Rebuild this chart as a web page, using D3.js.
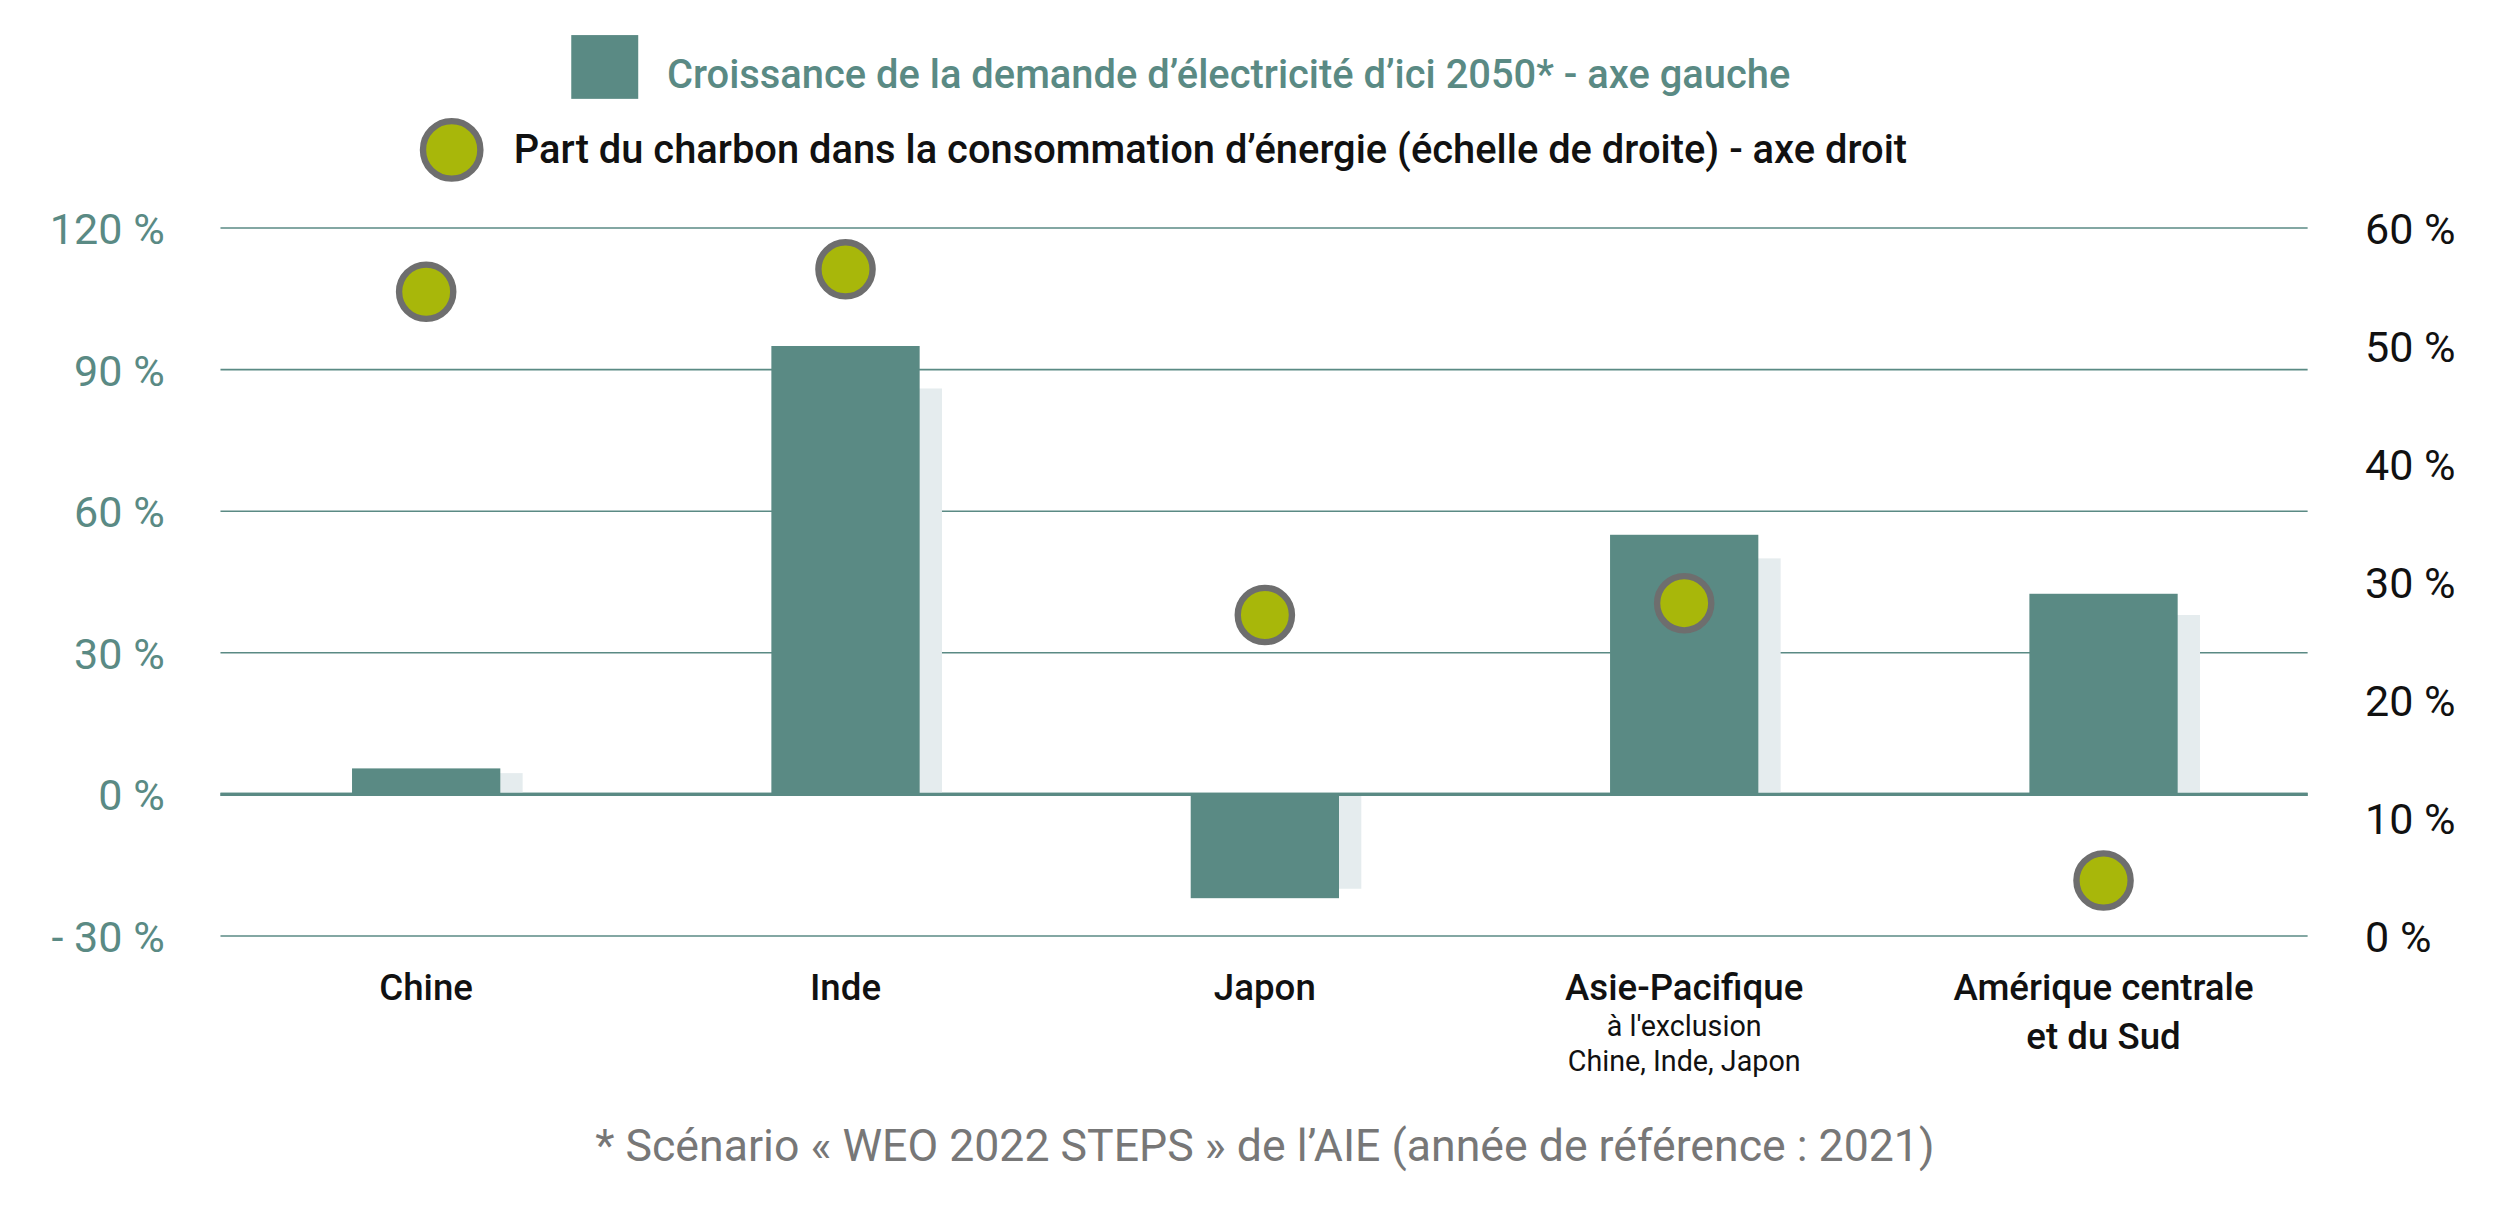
<!DOCTYPE html>
<html><head><meta charset="utf-8">
<script src="https://cdn.jsdelivr.net/npm/d3@7"></script>
<style>body{margin:0;background:#fff}svg{display:block}text{font-family:Roboto,sans-serif}</style>
</head><body>
<svg id="c" width="2501" height="1207" viewBox="0 0 1568 757"></svg>
<script>
const categories = ["Chine","Inde","Japon","Asie-Pacifique","Amérique centrale"];
const catLine2 = ["", "", "", "", "et du Sud"];
const catSub = ["", "", "", "à l'exclusion|Chine, Inde, Japon", ""];
const demandGrowth = [5.5, 95, -22, 55, 42.5];
const demandShadow = [4.5, 86, -20, 50, 38];
const coalShare = [54.6, 56.5, 27.2, 28.2, 4.7];
const leftTicks = [-30, 0, 30, 60, 90, 120];
const rightTicks = [0, 10, 20, 30, 40, 50, 60];

const svg = d3.select("#c");
const teal = "#5a8a84";
const x = d3.scalePoint().domain(categories).range([267, 1319]);
const yL = d3.scaleLinear().domain([-30, 120]).range([587, 143]);
const yR = d3.scaleLinear().domain([0, 60]).range([587, 143]);
const bw = 93;

// grid
svg.selectAll(".g").data(leftTicks).join("line")
  .attr("x1",138).attr("x2",1447).attr("y1",d=>yL(d)).attr("y2",d=>yL(d))
  .attr("stroke",teal).attr("stroke-width",d=>d===0?2:1);
// left labels
svg.selectAll(".lt").data(leftTicks).join("text")
  .attr("x",103).attr("y",d=>yL(d)+10).attr("text-anchor","end")
  .attr("font-size",27).attr("fill",teal)
  .text(d=>(d<0?"- "+(-d):d)+" %");
svg.selectAll(".rt").data(rightTicks).join("text")
  .attr("x",1483).attr("y",d=>yR(d)+10)
  .attr("font-size",27).attr("fill","#111").text(d=>d+" %");

// shadow bars
svg.selectAll(".sb").data(demandShadow).join("rect")
  .attr("x",(d,i)=>x(categories[i])-bw/2+14).attr("width",bw)
  .attr("y",d=>Math.min(yL(d),yL(0))).attr("height",d=>Math.abs(yL(d)-yL(0)))
  .attr("fill","#e5ecee");
svg.selectAll(".b").data(demandGrowth).join("rect")
  .attr("x",(d,i)=>x(categories[i])-bw/2).attr("width",bw)
  .attr("y",d=>Math.min(yL(d),yL(0))).attr("height",d=>Math.abs(yL(d)-yL(0)))
  .attr("fill",teal);
svg.append("line").attr("x1",138).attr("x2",1447).attr("y1",yL(0)).attr("y2",yL(0)).attr("stroke",teal).attr("stroke-width",2);

// dots
svg.selectAll(".d").data(coalShare).join("circle")
  .attr("cx",(d,i)=>x(categories[i])).attr("cy",d=>yR(d)).attr("r",17)
  .attr("fill","#a8b70a").attr("stroke","#6e6e6e").attr("stroke-width",4);

// category labels
categories.forEach((c,i)=>{
  const cx = x(c);
  svg.append("text").attr("x",cx).attr("y",627).attr("text-anchor","middle")
    .attr("font-size",23).attr("font-weight",500).attr("fill","#111").text(c);
  if(catLine2[i]) svg.append("text").attr("x",cx).attr("y",658).attr("text-anchor","middle")
    .attr("font-size",23).attr("font-weight",500).attr("fill","#111").text(catLine2[i]);
  if(catSub[i]) catSub[i].split("|").forEach((s,j)=>
    svg.append("text").attr("x",cx).attr("y",650+j*22).attr("text-anchor","middle")
      .attr("font-size",18).attr("fill","#111").text(s));
});

// legend
svg.append("rect").attr("x",358).attr("y",22).attr("width",42).attr("height",40).attr("fill",teal);
svg.append("text").attr("x",418).attr("y",55).attr("font-size",25).attr("font-weight",500).attr("fill",teal)
  .text("Croissance de la demande d’électricité d’ici 2050* - axe gauche");
svg.append("circle").attr("cx",283).attr("cy",94).attr("r",18).attr("fill","#a8b70a").attr("stroke","#6e6e6e").attr("stroke-width",4);
svg.append("text").attr("x",322).attr("y",102).attr("font-size",25).attr("font-weight",500).attr("fill","#111")
  .text("Part du charbon dans la consommation d’énergie (échelle de droite) - axe droit");

svg.append("text").attr("x",793).attr("y",728).attr("text-anchor","middle").attr("font-size",28).attr("fill","#777")
  .text("* Scénario « WEO 2022 STEPS » de l’AIE (année de référence : 2021)");
</script>
</body></html>
